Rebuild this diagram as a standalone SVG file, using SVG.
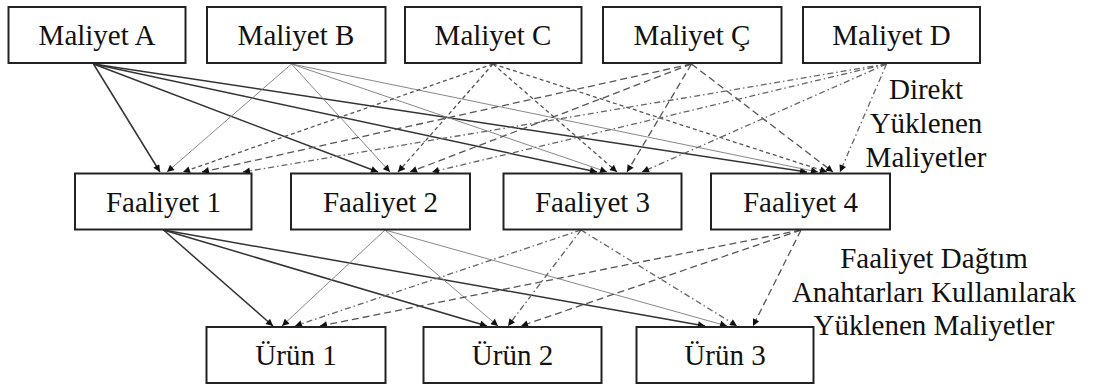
<svg xmlns="http://www.w3.org/2000/svg" width="1098" height="385" viewBox="0 0 1098 385">
<style>
.box{fill:#fff;stroke:#222;stroke-width:2}
.t{font-family:"Liberation Serif","Times New Roman",serif;font-size:29px;fill:#111;text-anchor:middle}
.a{stroke:#333;stroke-width:1.5;fill:none}
.b{stroke:#888;stroke-width:1;fill:none}
.c{stroke:#555;stroke-width:1.3;fill:none;stroke-dasharray:4 3}
.cc{stroke:#555;stroke-width:1.3;fill:none;stroke-dasharray:7 4}
.d{stroke:#666;stroke-width:1.3;fill:none;stroke-dasharray:6 3 1.5 3}
</style>
<defs>
<marker id="ah" viewBox="0 0 10 10" refX="10" refY="5" markerWidth="8" markerHeight="7" orient="auto" markerUnits="userSpaceOnUse">
<path d="M0,0 L10,5 L0,10 z" fill="#111"/>
</marker>
</defs>
<rect width="1098" height="385" fill="#fff"/>
<g id="connectors" marker-end="url(#ah)">
<!-- Maliyet A -->
<line class="a" x1="93.5" y1="64" x2="160" y2="172" marker-end="url(#ah)"/>
<line class="a" x1="93.5" y1="64" x2="378" y2="172" marker-end="url(#ah)"/>
<line class="a" x1="93.5" y1="64" x2="597" y2="172" marker-end="url(#ah)"/>
<line class="a" x1="93.5" y1="64" x2="807" y2="172" marker-end="url(#ah)"/>
<!-- Maliyet B -->
<line class="b" x1="291.5" y1="64" x2="167" y2="172" marker-end="url(#ah)"/>
<line class="b" x1="291.5" y1="64" x2="390" y2="172" marker-end="url(#ah)"/>
<line class="b" x1="291.5" y1="64" x2="607" y2="172" marker-end="url(#ah)"/>
<line class="b" x1="291.5" y1="64" x2="818" y2="172" marker-end="url(#ah)"/>
<!-- Maliyet C -->
<line class="c" x1="493" y1="64" x2="183" y2="172" marker-end="url(#ah)"/>
<line class="c" x1="493" y1="64" x2="398" y2="172" marker-end="url(#ah)"/>
<line class="c" x1="493" y1="64" x2="617" y2="172" marker-end="url(#ah)"/>
<line class="c" x1="493" y1="64" x2="827" y2="172" marker-end="url(#ah)"/>
<!-- Maliyet Ç -->
<line class="cc" x1="691.5" y1="64" x2="202" y2="172" marker-end="url(#ah)"/>
<line class="cc" x1="691.5" y1="64" x2="410" y2="172" marker-end="url(#ah)"/>
<line class="cc" x1="691.5" y1="64" x2="627" y2="172" marker-end="url(#ah)"/>
<line class="cc" x1="691.5" y1="64" x2="833" y2="172" marker-end="url(#ah)"/>
<!-- Maliyet D -->
<line class="d" x1="886.5" y1="64" x2="243" y2="172" marker-end="url(#ah)"/>
<line class="d" x1="886.5" y1="64" x2="432" y2="172" marker-end="url(#ah)"/>
<line class="d" x1="886.5" y1="64" x2="642" y2="172" marker-end="url(#ah)"/>
<line class="d" x1="886.5" y1="64" x2="840" y2="172" marker-end="url(#ah)"/>
<!-- Faaliyet 1 -->
<line class="a" x1="163.5" y1="230" x2="273" y2="326" marker-end="url(#ah)"/>
<line class="a" x1="163.5" y1="230" x2="487" y2="326" marker-end="url(#ah)"/>
<line class="a" x1="163.5" y1="230" x2="705" y2="326" marker-end="url(#ah)"/>
<!-- Faaliyet 2 -->
<line class="b" x1="385" y1="230" x2="282" y2="326" marker-end="url(#ah)"/>
<line class="b" x1="385" y1="230" x2="498" y2="326" marker-end="url(#ah)"/>
<line class="b" x1="385" y1="230" x2="727" y2="326" marker-end="url(#ah)"/>
<!-- Faaliyet 3 -->
<line class="d" x1="581" y1="230" x2="295" y2="326" marker-end="url(#ah)"/>
<line class="d" x1="581" y1="230" x2="508" y2="326" marker-end="url(#ah)"/>
<line class="d" x1="581" y1="230" x2="737" y2="326" marker-end="url(#ah)"/>
<!-- Faaliyet 4 -->
<line class="cc" x1="801" y1="230" x2="320" y2="326" marker-end="url(#ah)"/>
<line class="cc" x1="801" y1="230" x2="521" y2="326" marker-end="url(#ah)"/>
<line class="cc" x1="801" y1="230" x2="753" y2="326" marker-end="url(#ah)"/>
</g>
<g id="maliyet-a"><rect class="box" x="8.5" y="7" width="177" height="56"/><text class="t" x="97" y="45">Maliyet A</text></g>
<g id="maliyet-b"><rect class="box" x="207" y="7" width="178.5" height="56"/><text class="t" x="296" y="45">Maliyet B</text></g>
<g id="maliyet-c"><rect class="box" x="405" y="7" width="176.5" height="56"/><text class="t" x="493" y="45">Maliyet C</text></g>
<g id="maliyet-cc"><rect class="box" x="603" y="7" width="178.5" height="56"/><text class="t" x="692" y="45">Maliyet Ç</text></g>
<g id="maliyet-d"><rect class="box" x="803" y="7" width="177" height="56"/><text class="t" x="891.5" y="45">Maliyet D</text></g>
<g id="faaliyet-1"><rect class="box" x="75" y="173.5" width="176.5" height="56"/><text class="t" x="163.5" y="212">Faaliyet 1</text></g>
<g id="faaliyet-2"><rect class="box" x="291" y="173.5" width="179" height="56"/><text class="t" x="380.5" y="212">Faaliyet 2</text></g>
<g id="faaliyet-3"><rect class="box" x="503.5" y="173.5" width="178" height="56"/><text class="t" x="592.5" y="212">Faaliyet 3</text></g>
<g id="faaliyet-4"><rect class="box" x="711" y="173.5" width="179" height="56"/><text class="t" x="800.5" y="212">Faaliyet 4</text></g>
<g id="urun-1"><rect class="box" x="206.5" y="327" width="179" height="56"/><text class="t" x="296" y="365">Ürün 1</text></g>
<g id="urun-2"><rect class="box" x="423.5" y="327" width="178" height="56"/><text class="t" x="512.5" y="365">Ürün 2</text></g>
<g id="urun-3"><rect class="box" x="636.5" y="327" width="177" height="56"/><text class="t" x="725" y="365">Ürün 3</text></g>
<g id="label-direkt">
<text class="t" x="926" y="99">Direkt</text>
<text class="t" x="926" y="133">Yüklenen</text>
<text class="t" x="926" y="166.5">Maliyetler</text>
</g>
<g id="label-dagitim">
<text class="t" x="934" y="268">Faaliyet Dağtım</text>
<text class="t" x="934" y="301.5">Anahtarları Kullanılarak</text>
<text class="t" x="934" y="335">Yüklenen Maliyetler</text>
</g>
</svg>
